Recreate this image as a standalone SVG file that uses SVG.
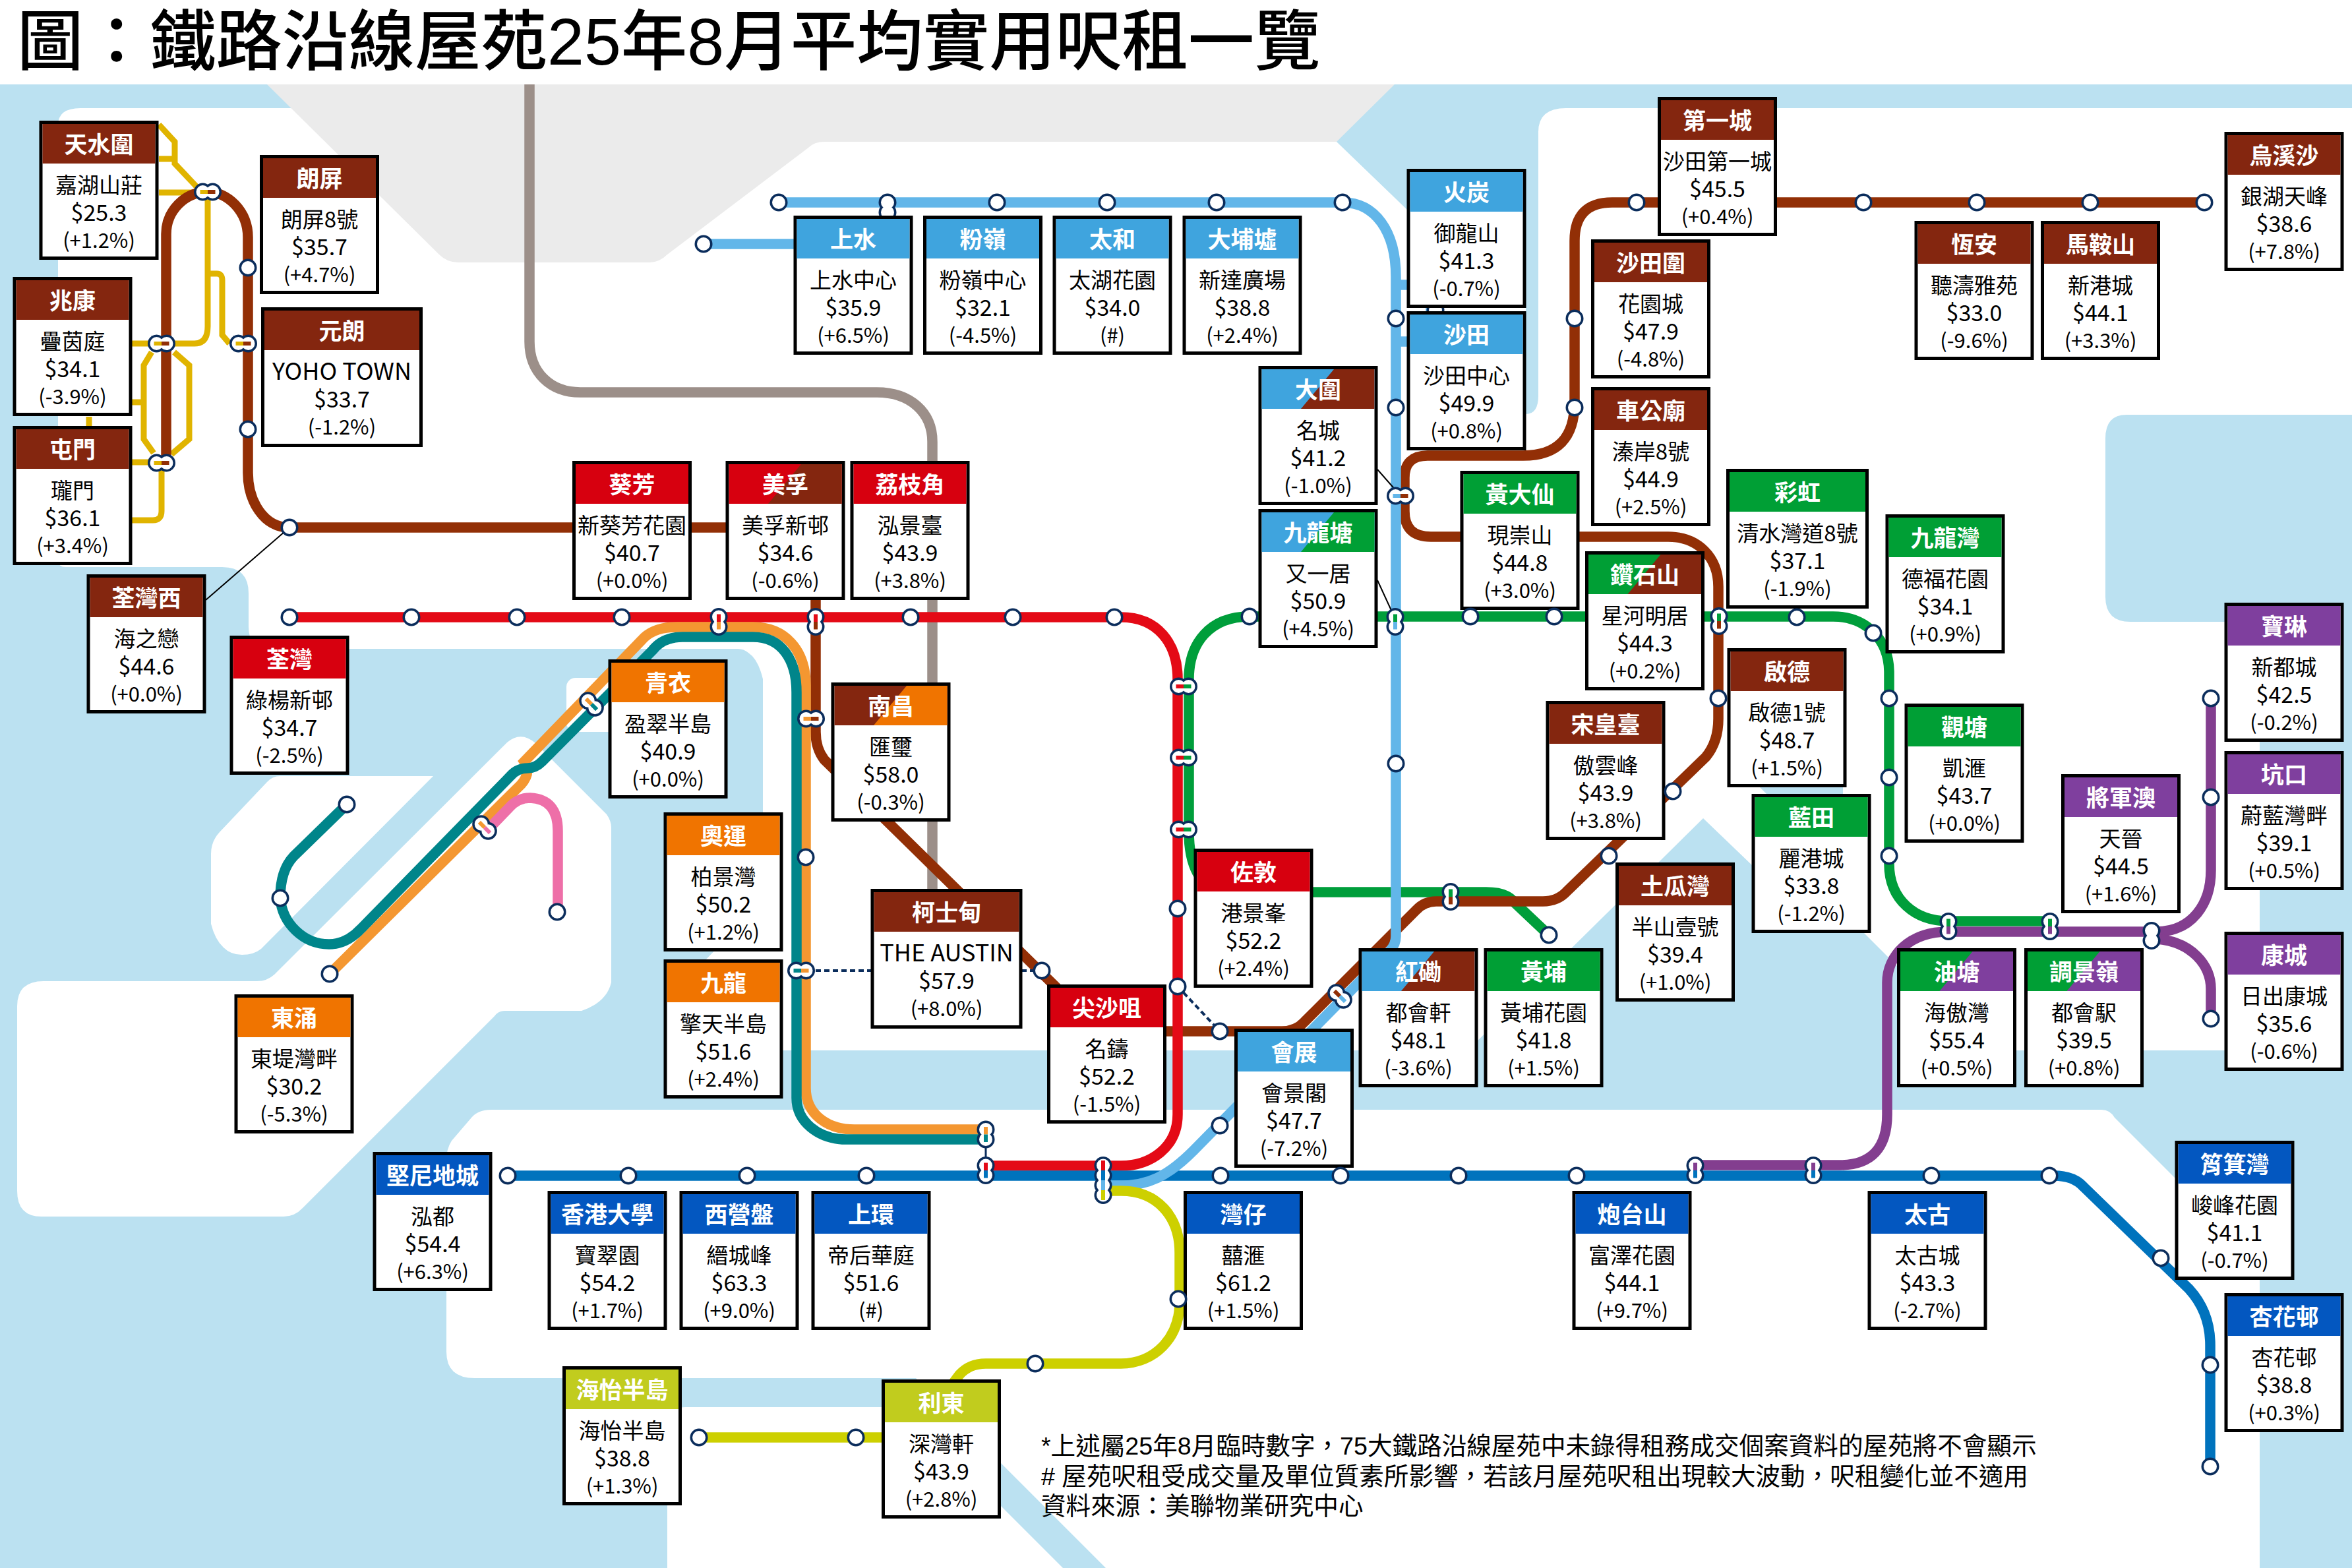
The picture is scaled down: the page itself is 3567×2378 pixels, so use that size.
<svg xmlns="http://www.w3.org/2000/svg" width="3567" height="2378" viewBox="0 0 3567 2378">
<style>
text{font-family:"Noto Sans CJK TC","Noto Sans",sans-serif;fill:#000}
.title{font-family:"Liberation Sans","Noto Sans CJK TC",sans-serif;font-size:100.5px;font-weight:500}
.note{font-family:"Liberation Sans","Noto Sans CJK TC",sans-serif;font-size:37.6px}
.node text{text-anchor:middle}
.node .t{font-size:35px;font-weight:700;fill:#fff}
.node .n{font-size:33px}
.node .n2{font-size:36px}
.node .v{font-size:34px}
.node .c{font-size:31px}
.box{fill:#fff;stroke:#000;stroke-width:5}
.f-br{fill:#84260f}.f-rd{fill:#d7000f}.f-lb{fill:#3fa4de}.f-gn{fill:#009f35}.f-or{fill:#f07400}.f-pu{fill:#7f3f9e}.f-bl{fill:#0357c0}.f-lm{fill:#c1cc1e}
.sea{fill:#bbe1f1}.land{fill:#fff}.hill{fill:#ebebeb}
.ln{fill:none;stroke-width:15.5}
.lr{fill:none;stroke:#e0b400;stroke-width:9}
.k-br{stroke:#922f06}.k-rd{stroke:#e40a16}.k-or{stroke:#f49731}.k-te{stroke:#00858a}.k-pk{stroke:#ee6fa8}.k-gn{stroke:#009e3b}.k-lm{stroke:#cdd000}.k-bl{stroke:#0073bd}.k-lb{stroke:#62b6e9}.k-pu{stroke:#833e8f}.k-gy{stroke:#9c8f89}.k-ye{stroke:#e0b400}
.thin{fill:none;stroke:#000;stroke-width:2}
.dot{fill:none;stroke:#0b2d5c;stroke-width:4;stroke-dasharray:8 5}
.o{fill:#0b2d5c}.w{fill:#fff}
.bar{stroke-width:6}
</style>
<defs>
<rect id="b" class="box" x="-88" y="2.5" width="176" height="206"/>
<rect id="h" x="-85.5" y="5" width="171" height="60"/>
<polygon id="sp" points="24,5 85.5,5 85.5,65 -26,65"/>
<g id="s"><circle class="o" r="13.5"/><circle class="w" r="10"/></g>
<g id="i2"><circle class="o" cx="-7.5" r="13.5"/><circle class="o" cx="7.5" r="13.5"/><circle class="w" cx="-7.5" r="10"/><circle class="w" cx="7.5" r="10"/></g>
</defs>
<g id="map">
<rect class="sea" x="0" y="128" width="3567" height="2250"/>
<path class="land" d="M122,164H440L2027,215L2135,319L2314,460V628Q2333,628 2333,600V200Q2333,164 2375,164H3567V629H3225Q3193,629 3193,665V905Q3193,943 3231,943H3427V1593H2877V1465L2865,1453L2795,1383V1190H2665L2690,1215L2724,1379L2658,1313L2583,1241L2226,1593H1066V1460L1157,1366V1030Q1150,1000 1135,990Q1128,984 1119,984H407Q377,984 377,950V900Q377,860 337,860H100Q88,860 88,850V190Q88,164 122,164Z"/>
<rect class="land" x="859" y="1028" width="100" height="82" rx="14"/>
<path class="land" d="M657,1177H425Q413,1177 405,1186L333,1262Q320,1276 320,1295V1401Q326,1425 339,1437Q350,1448 367,1448Q385,1448 396,1439Z"/>
<path class="land" d="M769,1126Q790,1108 812,1127L920,1235Q927,1245 927,1255V1490Q920,1520 882,1533H766Q756,1533 750,1541L459,1832Q447,1845 430,1845H63Q26,1845 26,1806V1526Q26,1488 66,1488H390Q405,1488 416,1478Z"/>
<path class="land" d="M745,1683H3187Q3200,1683 3207,1695L3427,1915V2378H1677L1389,2090H720Q677,2090 677,2050V1760Q677,1742 685,1730L715,1695Q725,1683 745,1683Z"/>
<path class="land" d="M1040,2134H1368L1612,2378H1012V2160Q1012,2134 1040,2134Z"/>
<path class="hill" d="M405,128L666,386Q678,398 695,398H985Q1000,398 1012,386L1226,224Q1235,215 1250,215H2027L2115,128Z"/>
</g>
<text class="title" x="26" y="98">圖：鐵路沿線屋苑25年8月平均實用呎租一覽</text>
<g id="connectors">
<path class="ln k-gy" d="M803,128V518C803,565 835,595 880,595H1330C1380,595 1414,625 1414,670V1360"/>
<g id="light-rail">
<path class="lr" d="M241,189L265,215V248L298,283M241,241H265M241,292H295"/>
<path class="lr" d="M315,300V495Q315,521 295,521H200M315,415H329Q337,415 337,425V508L348,521"/>
<path class="lr" d="M230,534L218,554V666L233,687M264,534L287,554V666L260,689M200,610H218M200,701H230M245,712V775Q245,789 232,789H200M135,632V646"/>
</g>
<path class="ln k-gn" d="M1895,935C1835,935 1803,975 1803,1030V1260C1803,1320 1825,1353 1865,1353H2254Q2285,1353 2296,1368L2349,1418"/>
<path class="ln k-gn" d="M1895,935H2780C2830,935 2865,970 2865,1020V1310C2865,1365 2905,1397 2955,1397H3109"/>
<path class="ln k-br" d="M252,702V355C252,320 280,291 315,291C345,291 376,320 376,360V717C376,760 400,800 439,800H1190Q1237,800 1237,850V1110Q1237,1135 1250,1152L1625,1520Q1655,1564 1700,1564H1944Q1965,1564 1978,1550L2148,1380Q2160,1367 2178,1367H2340Q2362,1367 2376,1352L2587,1148Q2606,1125 2606,1090V890C2606,845 2575,814 2530,814H2170Q2130,814 2130,775V725Q2130,691 2165,691H2310Q2388,691 2388,610V365Q2388,307 2445,307H3343"/>
<path class="ln k-rd" d="M439,936H1700C1755,936 1786,975 1786,1030V1690C1786,1740 1745,1768 1700,1768H1495"/>
<path class="ln k-or" d="M500,1477L790,1190Q806,1172 795,1155L973,971Q990,951 1027,951H1142C1190,951 1222,985 1222,1040V1650C1222,1690 1255,1713 1296,1713H1495"/>
<path class="ln k-te" d="M525,1221L445,1299C430,1315 425,1340 425,1362C428,1400 460,1432 499,1432C520,1432 535,1422 548,1408L775,1176Q785,1165 800,1165Q812,1165 822,1155L989,987Q1005,966 1035,966H1142C1185,966 1208,1000 1208,1050V1665C1208,1700 1240,1728 1284,1728H1495"/>
<path class="ln k-pk" d="M740,1258L772,1225Q785,1210 804,1210Q846,1212 846,1260V1383"/>
<path class="ln k-pu" d="M2574,1767H2790Q2862,1767 2862,1690V1490C2862,1450 2895,1413 2955,1413H3270C3325,1413 3353,1370 3353,1320V1059"/>
<path class="ln k-pu" d="M3270,1424C3325,1428 3353,1465 3353,1500V1545"/>
<path class="ln k-bl" d="M770,1783H3115Q3145,1783 3160,1800L3320,1955Q3352,1990 3352,2040V2224"/>
<path class="ln k-lb" d="M1067,370H1300"/>
<path class="ln k-lb" d="M2117,432H2170V518H2117"/>
<path class="ln k-lb" d="M1181,307H2036C2085,307 2117,350 2117,420V1420Q2117,1432 2108,1442L1810,1745C1770,1785 1740,1798 1700,1798H1673"/>
<path class="ln k-lm" d="M1673,1806H1700C1755,1806 1789,1845 1789,1900V1975C1789,2030 1750,2068 1700,2068H1495Q1470,2068 1455,2085L1440,2105"/>
<path class="ln k-lm" d="M1060,2180H1340"/>
<path class="thin" d="M439,800L312,910M2089,712L2118,745M2089,880L2112,930"/>
<path class="dot" d="M1237,1472H1580M1786,1496L1850,1564"/>
<path d="M1495,1735V1760" fill="none" stroke="#0b2d5c" stroke-width="3"/>
</g>
<g id="hidden-stops">
<g id="s-racecourse"><use href="#s" x="2177" y="470"/></g>
<g id="i-sheungshui" transform="translate(1346,314.5) rotate(90)"><use href="#i2"/></g>
</g>
<g id="nodes">
<g id="tin-shui-wai" class="node" transform="translate(150,183)"><use href="#b"/><use href="#h" class="f-br"/><text class="t" y="49">天水圍</text><text class="n" y="110">嘉湖山莊</text><text class="v" y="152">$25.3</text><text class="c" y="193">(+1.2%)</text></g>
<g id="long-ping" class="node" transform="translate(484.5,235)"><use href="#b"/><use href="#h" class="f-br"/><text class="t" y="49">朗屏</text><text class="n" y="110">朗屏8號</text><text class="v" y="152">$35.7</text><text class="c" y="193">(+4.7%)</text></g>
<g id="siu-hong" class="node" transform="translate(110,420)"><use href="#b"/><use href="#h" class="f-br"/><text class="t" y="49">兆康</text><text class="n" y="110">疊茵庭</text><text class="v" y="152">$34.1</text><text class="c" y="193">(-3.9%)</text></g>
<g id="tuen-mun" class="node" transform="translate(110,646)"><use href="#b"/><use href="#h" class="f-br"/><text class="t" y="49">屯門</text><text class="n" y="110">瓏門</text><text class="v" y="152">$36.1</text><text class="c" y="193">(+3.4%)</text></g>
<g id="yuen-long" class="node" transform="translate(518.5,466)"><rect class="box" x="-120" y="2.5" width="240" height="207"/><rect class="f-br" x="-117.5" y="5" width="235" height="60"/><text class="t" y="49">元朗</text><text class="n2" y="110">YOHO TOWN</text><text class="v" y="152">$33.7</text><text class="c" y="193">(-1.2%)</text></g>
<g id="tsuen-wan-west" class="node" transform="translate(222,871)"><use href="#b"/><use href="#h" class="f-br"/><text class="t" y="49">荃灣西</text><text class="n" y="110">海之戀</text><text class="v" y="152">$44.6</text><text class="c" y="193">(+0.0%)</text></g>
<g id="kwai-fong" class="node" transform="translate(958.5,699)"><use href="#b"/><use href="#h" class="f-rd"/><text class="t" y="49">葵芳</text><text class="n" y="110">新葵芳花園</text><text class="v" y="152">$40.7</text><text class="c" y="193">(+0.0%)</text></g>
<g id="mei-foo" class="node" transform="translate(1191,699)"><use href="#b"/><use href="#h" class="f-rd"/><use href="#sp" class="f-br"/><text class="t" y="49">美孚</text><text class="n" y="110">美孚新邨</text><text class="v" y="152">$34.6</text><text class="c" y="193">(-0.6%)</text></g>
<g id="lai-chi-kok" class="node" transform="translate(1380,699)"><use href="#b"/><use href="#h" class="f-rd"/><text class="t" y="49">荔枝角</text><text class="n" y="110">泓景臺</text><text class="v" y="152">$43.9</text><text class="c" y="193">(+3.8%)</text></g>
<g id="tsuen-wan" class="node" transform="translate(439,964)"><use href="#b"/><use href="#h" class="f-rd"/><text class="t" y="49">荃灣</text><text class="n" y="110">綠楊新邨</text><text class="v" y="152">$34.7</text><text class="c" y="193">(-2.5%)</text></g>
<g id="tsing-yi" class="node" transform="translate(1013,1000)"><use href="#b"/><use href="#h" class="f-or"/><text class="t" y="49">青衣</text><text class="n" y="110">盈翠半島</text><text class="v" y="152">$40.9</text><text class="c" y="193">(+0.0%)</text></g>
<g id="nam-cheong" class="node" transform="translate(1351,1035)"><use href="#b"/><use href="#h" class="f-br"/><use href="#sp" class="f-or"/><text class="t" y="49">南昌</text><text class="n" y="110">匯璽</text><text class="v" y="152">$58.0</text><text class="c" y="193">(-0.3%)</text></g>
<g id="olympic" class="node" transform="translate(1097,1232)"><use href="#b"/><use href="#h" class="f-or"/><text class="t" y="49">奧運</text><text class="n" y="110">柏景灣</text><text class="v" y="152">$50.2</text><text class="c" y="193">(+1.2%)</text></g>
<g id="kowloon" class="node" transform="translate(1097,1455)"><use href="#b"/><use href="#h" class="f-or"/><text class="t" y="49">九龍</text><text class="n" y="110">擎天半島</text><text class="v" y="152">$51.6</text><text class="c" y="193">(+2.4%)</text></g>
<g id="austin" class="node" transform="translate(1435.5,1348)"><rect class="box" x="-112.5" y="2.5" width="225" height="207"/><rect class="f-br" x="-110" y="5" width="220" height="60"/><text class="t" y="49">柯士甸</text><text class="n2" y="110">THE AUSTIN</text><text class="v" y="152">$57.9</text><text class="c" y="193">(+8.0%)</text></g>
<g id="tung-chung" class="node" transform="translate(446,1508)"><use href="#b"/><use href="#h" class="f-or"/><text class="t" y="49">東涌</text><text class="n" y="110">東堤灣畔</text><text class="v" y="152">$30.2</text><text class="c" y="193">(-5.3%)</text></g>
<g id="tsim-sha-tsui" class="node" transform="translate(1678.5,1493)"><use href="#b"/><use href="#h" class="f-rd"/><text class="t" y="49">尖沙咀</text><text class="n" y="110">名鑄</text><text class="v" y="152">$52.2</text><text class="c" y="193">(-1.5%)</text></g>
<g id="jordan" class="node" transform="translate(1901,1287)"><use href="#b"/><use href="#h" class="f-rd"/><text class="t" y="49">佐敦</text><text class="n" y="110">港景峯</text><text class="v" y="152">$52.2</text><text class="c" y="193">(+2.4%)</text></g>
<g id="exhibition" class="node" transform="translate(1962.5,1560)"><use href="#b"/><use href="#h" class="f-lb"/><text class="t" y="49">會展</text><text class="n" y="110">會景閣</text><text class="v" y="152">$47.7</text><text class="c" y="193">(-7.2%)</text></g>
<g id="hung-hom" class="node" transform="translate(2151,1438)"><use href="#b"/><use href="#h" class="f-lb"/><use href="#sp" class="f-br"/><text class="t" y="49">紅磡</text><text class="n" y="110">都會軒</text><text class="v" y="152">$48.1</text><text class="c" y="193">(-3.6%)</text></g>
<g id="whampoa" class="node" transform="translate(2341,1438)"><use href="#b"/><use href="#h" class="f-gn"/><text class="t" y="49">黃埔</text><text class="n" y="110">黃埔花園</text><text class="v" y="152">$41.8</text><text class="c" y="193">(+1.5%)</text></g>
<g id="to-kwa-wan" class="node" transform="translate(2540.5,1308)"><use href="#b"/><use href="#h" class="f-br"/><text class="t" y="49">土瓜灣</text><text class="n" y="110">半山壹號</text><text class="v" y="152">$39.4</text><text class="c" y="193">(+1.0%)</text></g>
<g id="sung-wong-toi" class="node" transform="translate(2435,1063)"><use href="#b"/><use href="#h" class="f-br"/><text class="t" y="49">宋皇臺</text><text class="n" y="110">傲雲峰</text><text class="v" y="152">$43.9</text><text class="c" y="193">(+3.8%)</text></g>
<g id="kai-tak" class="node" transform="translate(2710,983)"><use href="#b"/><use href="#h" class="f-br"/><text class="t" y="49">啟德</text><text class="n" y="110">啟德1號</text><text class="v" y="152">$48.7</text><text class="c" y="193">(+1.5%)</text></g>
<g id="lam-tin" class="node" transform="translate(2747,1204)"><use href="#b"/><use href="#h" class="f-gn"/><text class="t" y="49">藍田</text><text class="n" y="110">麗港城</text><text class="v" y="152">$33.8</text><text class="c" y="193">(-1.2%)</text></g>
<g id="kwun-tong" class="node" transform="translate(2979,1067)"><use href="#b"/><use href="#h" class="f-gn"/><text class="t" y="49">觀塘</text><text class="n" y="110">凱滙</text><text class="v" y="152">$43.7</text><text class="c" y="193">(+0.0%)</text></g>
<g id="kowloon-bay" class="node" transform="translate(2950,780)"><use href="#b"/><use href="#h" class="f-gn"/><text class="t" y="49">九龍灣</text><text class="n" y="110">德福花園</text><text class="v" y="152">$34.1</text><text class="c" y="193">(+0.9%)</text></g>
<g id="choi-hung" class="node" transform="translate(2726,711)"><rect class="box" x="-105.5" y="2.5" width="211" height="207"/><rect class="f-gn" x="-103" y="5" width="206" height="60"/><text class="t" y="49">彩虹</text><text class="n" y="110">清水灣道8號</text><text class="v" y="152">$37.1</text><text class="c" y="193">(-1.9%)</text></g>
<g id="diamond-hill" class="node" transform="translate(2494.5,836)"><use href="#b"/><use href="#h" class="f-gn"/><use href="#sp" class="f-br"/><text class="t" y="49">鑽石山</text><text class="n" y="110">星河明居</text><text class="v" y="152">$44.3</text><text class="c" y="193">(+0.2%)</text></g>
<g id="wong-tai-sin" class="node" transform="translate(2305,714)"><use href="#b"/><use href="#h" class="f-gn"/><text class="t" y="49">黃大仙</text><text class="n" y="110">現崇山</text><text class="v" y="152">$44.8</text><text class="c" y="193">(+3.0%)</text></g>
<g id="kowloon-tong" class="node" transform="translate(1999,772)"><use href="#b"/><use href="#h" class="f-lb"/><use href="#sp" class="f-gn"/><text class="t" y="49">九龍塘</text><text class="n" y="110">又一居</text><text class="v" y="152">$50.9</text><text class="c" y="193">(+4.5%)</text></g>
<g id="tai-wai" class="node" transform="translate(1999,555)"><use href="#b"/><use href="#h" class="f-lb"/><use href="#sp" class="f-br"/><text class="t" y="49">大圍</text><text class="n" y="110">名城</text><text class="v" y="152">$41.2</text><text class="c" y="193">(-1.0%)</text></g>
<g id="sha-tin" class="node" transform="translate(2224,472)"><use href="#b"/><use href="#h" class="f-lb"/><text class="t" y="49">沙田</text><text class="n" y="110">沙田中心</text><text class="v" y="152">$49.9</text><text class="c" y="193">(+0.8%)</text></g>
<g id="fo-tan" class="node" transform="translate(2224,256)"><use href="#b"/><use href="#h" class="f-lb"/><text class="t" y="49">火炭</text><text class="n" y="110">御龍山</text><text class="v" y="152">$41.3</text><text class="c" y="193">(-0.7%)</text></g>
<g id="sheung-shui" class="node" transform="translate(1294,327)"><use href="#b"/><use href="#h" class="f-lb"/><text class="t" y="49">上水</text><text class="n" y="110">上水中心</text><text class="v" y="152">$35.9</text><text class="c" y="193">(+6.5%)</text></g>
<g id="fanling" class="node" transform="translate(1490.5,327)"><use href="#b"/><use href="#h" class="f-lb"/><text class="t" y="49">粉嶺</text><text class="n" y="110">粉嶺中心</text><text class="v" y="152">$32.1</text><text class="c" y="193">(-4.5%)</text></g>
<g id="tai-wo" class="node" transform="translate(1687,327)"><use href="#b"/><use href="#h" class="f-lb"/><text class="t" y="49">太和</text><text class="n" y="110">太湖花園</text><text class="v" y="152">$34.0</text><text class="c" y="193">(#)</text></g>
<g id="tai-po-market" class="node" transform="translate(1884,327)"><use href="#b"/><use href="#h" class="f-lb"/><text class="t" y="49">大埔墟</text><text class="n" y="110">新達廣場</text><text class="v" y="152">$38.8</text><text class="c" y="193">(+2.4%)</text></g>
<g id="city-one" class="node" transform="translate(2604.5,147)"><use href="#b"/><use href="#h" class="f-br"/><text class="t" y="49">第一城</text><text class="n" y="110">沙田第一城</text><text class="v" y="152">$45.5</text><text class="c" y="193">(+0.4%)</text></g>
<g id="sha-tin-wai" class="node" transform="translate(2503.5,363)"><use href="#b"/><use href="#h" class="f-br"/><text class="t" y="49">沙田圍</text><text class="n" y="110">花園城</text><text class="v" y="152">$47.9</text><text class="c" y="193">(-4.8%)</text></g>
<g id="che-kung-temple" class="node" transform="translate(2503.5,587)"><use href="#b"/><use href="#h" class="f-br"/><text class="t" y="49">車公廟</text><text class="n" y="110">溱岸8號</text><text class="v" y="152">$44.9</text><text class="c" y="193">(+2.5%)</text></g>
<g id="heng-on" class="node" transform="translate(2994,335)"><use href="#b"/><use href="#h" class="f-br"/><text class="t" y="49">恆安</text><text class="n" y="110">聽濤雅苑</text><text class="v" y="152">$33.0</text><text class="c" y="193">(-9.6%)</text></g>
<g id="ma-on-shan" class="node" transform="translate(3185.5,335)"><use href="#b"/><use href="#h" class="f-br"/><text class="t" y="49">馬鞍山</text><text class="n" y="110">新港城</text><text class="v" y="152">$44.1</text><text class="c" y="193">(+3.3%)</text></g>
<g id="wu-kai-sha" class="node" transform="translate(3464,200)"><use href="#b"/><use href="#h" class="f-br"/><text class="t" y="49">烏溪沙</text><text class="n" y="110">銀湖天峰</text><text class="v" y="152">$38.6</text><text class="c" y="193">(+7.8%)</text></g>
<g id="po-lam" class="node" transform="translate(3464,914)"><use href="#b"/><use href="#h" class="f-pu"/><text class="t" y="49">寶琳</text><text class="n" y="110">新都城</text><text class="v" y="152">$42.5</text><text class="c" y="193">(-0.2%)</text></g>
<g id="hang-hau" class="node" transform="translate(3464,1139)"><use href="#b"/><use href="#h" class="f-pu"/><text class="t" y="49">坑口</text><text class="n" y="110">蔚藍灣畔</text><text class="v" y="152">$39.1</text><text class="c" y="193">(+0.5%)</text></g>
<g id="lohas-park" class="node" transform="translate(3464,1413)"><use href="#b"/><use href="#h" class="f-pu"/><text class="t" y="49">康城</text><text class="n" y="110">日出康城</text><text class="v" y="152">$35.6</text><text class="c" y="193">(-0.6%)</text></g>
<g id="tseung-kwan-o" class="node" transform="translate(3216.5,1174)"><use href="#b"/><use href="#h" class="f-pu"/><text class="t" y="49">將軍澳</text><text class="n" y="110">天晉</text><text class="v" y="152">$44.5</text><text class="c" y="193">(+1.6%)</text></g>
<g id="yau-tong" class="node" transform="translate(2967.5,1438)"><use href="#b"/><use href="#h" class="f-gn"/><use href="#sp" class="f-pu"/><text class="t" y="49">油塘</text><text class="n" y="110">海傲灣</text><text class="v" y="152">$55.4</text><text class="c" y="193">(+0.5%)</text></g>
<g id="tiu-keng-leng" class="node" transform="translate(3160.5,1438)"><use href="#b"/><use href="#h" class="f-gn"/><use href="#sp" class="f-pu"/><text class="t" y="49">調景嶺</text><text class="n" y="110">都會駅</text><text class="v" y="152">$39.5</text><text class="c" y="193">(+0.8%)</text></g>
<g id="kennedy-town" class="node" transform="translate(656,1747)"><use href="#b"/><use href="#h" class="f-bl"/><text class="t" y="49">堅尼地城</text><text class="n" y="110">泓都</text><text class="v" y="152">$54.4</text><text class="c" y="193">(+6.3%)</text></g>
<g id="hku" class="node" transform="translate(921,1806)"><use href="#b"/><use href="#h" class="f-bl"/><text class="t" y="49">香港大學</text><text class="n" y="110">寶翠園</text><text class="v" y="152">$54.2</text><text class="c" y="193">(+1.7%)</text></g>
<g id="sai-ying-pun" class="node" transform="translate(1121,1806)"><use href="#b"/><use href="#h" class="f-bl"/><text class="t" y="49">西營盤</text><text class="n" y="110">縉城峰</text><text class="v" y="152">$63.3</text><text class="c" y="193">(+9.0%)</text></g>
<g id="sheung-wan" class="node" transform="translate(1321,1806)"><use href="#b"/><use href="#h" class="f-bl"/><text class="t" y="49">上環</text><text class="n" y="110">帝后華庭</text><text class="v" y="152">$51.6</text><text class="c" y="193">(#)</text></g>
<g id="wan-chai" class="node" transform="translate(1885.5,1806)"><use href="#b"/><use href="#h" class="f-bl"/><text class="t" y="49">灣仔</text><text class="n" y="110">囍滙</text><text class="v" y="152">$61.2</text><text class="c" y="193">(+1.5%)</text></g>
<g id="fortress-hill" class="node" transform="translate(2475,1806)"><use href="#b"/><use href="#h" class="f-bl"/><text class="t" y="49">炮台山</text><text class="n" y="110">富澤花園</text><text class="v" y="152">$44.1</text><text class="c" y="193">(+9.7%)</text></g>
<g id="tai-koo" class="node" transform="translate(2923,1806)"><use href="#b"/><use href="#h" class="f-bl"/><text class="t" y="49">太古</text><text class="n" y="110">太古城</text><text class="v" y="152">$43.3</text><text class="c" y="193">(-2.7%)</text></g>
<g id="shau-kei-wan" class="node" transform="translate(3389,1730)"><use href="#b"/><use href="#h" class="f-bl"/><text class="t" y="49">筲箕灣</text><text class="n" y="110">峻峰花園</text><text class="v" y="152">$41.1</text><text class="c" y="193">(-0.7%)</text></g>
<g id="heng-fa-chuen" class="node" transform="translate(3464,1961)"><use href="#b"/><use href="#h" class="f-bl"/><text class="t" y="49">杏花邨</text><text class="n" y="110">杏花邨</text><text class="v" y="152">$38.8</text><text class="c" y="193">(+0.3%)</text></g>
<g id="south-horizons" class="node" transform="translate(943.5,2072)"><use href="#b"/><use href="#h" class="f-lm"/><text class="t" y="49">海怡半島</text><text class="n" y="110">海怡半島</text><text class="v" y="152">$38.8</text><text class="c" y="193">(+1.3%)</text></g>
<g id="lei-tung" class="node" transform="translate(1427.5,2092)"><use href="#b"/><use href="#h" class="f-lm"/><text class="t" y="49">利東</text><text class="n" y="110">深灣軒</text><text class="v" y="152">$43.9</text><text class="c" y="193">(+2.8%)</text></g>
</g>
<g id="stations">
<g id="s01"><use href="#s" x="376" y="406"/></g><g id="s02"><use href="#s" x="376" y="651"/></g><g id="s03"><use href="#s" x="439" y="800"/></g><g id="s04"><use href="#s" x="2388" y="483"/></g><g id="s05"><use href="#s" x="2388" y="618"/></g><g id="s06"><use href="#s" x="2482" y="307"/></g><g id="s07"><use href="#s" x="2826" y="307"/></g><g id="s08"><use href="#s" x="2998" y="307"/></g><g id="s09"><use href="#s" x="3170" y="307"/></g><g id="s10"><use href="#s" x="3343" y="307"/></g><g id="s11"><use href="#s" x="1580" y="1472"/></g><g id="s12"><use href="#s" x="1850" y="1564"/></g><g id="s13"><use href="#s" x="2440" y="1298"/></g><g id="s14"><use href="#s" x="2537" y="1200"/></g><g id="s15"><use href="#s" x="2606" y="1059"/></g>
<g id="s16"><use href="#s" x="439" y="936"/></g><g id="s17"><use href="#s" x="624" y="936"/></g><g id="s18"><use href="#s" x="784" y="936"/></g><g id="s19"><use href="#s" x="943" y="936"/></g><g id="s20"><use href="#s" x="1381" y="936"/></g><g id="s21"><use href="#s" x="1536" y="936"/></g><g id="s22"><use href="#s" x="1690" y="936"/></g><g id="s23"><use href="#s" x="1786" y="1378"/></g><g id="s24"><use href="#s" x="1786" y="1496"/></g>
<g id="s25"><use href="#s" x="1895" y="935"/></g><g id="s26"><use href="#s" x="2230" y="935"/></g><g id="s27"><use href="#s" x="2357" y="935"/></g><g id="s28"><use href="#s" x="2725" y="936"/></g><g id="s29"><use href="#s" x="2841" y="960"/></g><g id="s30"><use href="#s" x="2865" y="1059"/></g><g id="s31"><use href="#s" x="2865" y="1179"/></g><g id="s32"><use href="#s" x="2865" y="1298"/></g><g id="s33"><use href="#s" x="2349" y="1418"/></g>
<g id="s34"><use href="#s" x="1067" y="370"/></g><g id="s35"><use href="#s" x="1181" y="307"/></g><g id="s36"><use href="#s" x="1512" y="307"/></g><g id="s37"><use href="#s" x="1679" y="307"/></g><g id="s38"><use href="#s" x="1845" y="307"/></g><g id="s39"><use href="#s" x="2036" y="307"/></g><g id="s40"><use href="#s" x="2117" y="483"/></g><g id="s41"><use href="#s" x="2117" y="618"/></g><g id="s42"><use href="#s" x="2117" y="1158"/></g><g id="s43"><use href="#s" x="1850" y="1707"/></g>
<g id="s44"><use href="#s" x="500" y="1477"/></g><g id="s45"><use href="#s" x="1222" y="1300"/></g><g id="s46"><use href="#s" x="526" y="1220"/></g><g id="s47"><use href="#s" x="425" y="1362"/></g><g id="s48"><use href="#s" x="845" y="1383"/></g>
<g id="s49"><use href="#s" x="3353" y="1059"/></g><g id="s50"><use href="#s" x="3353" y="1209"/></g><g id="s51"><use href="#s" x="3353" y="1545"/></g>
<g id="s52"><use href="#s" x="770" y="1783"/></g><g id="s53"><use href="#s" x="953" y="1783"/></g><g id="s54"><use href="#s" x="1133" y="1783"/></g><g id="s55"><use href="#s" x="1314" y="1783"/></g><g id="s56"><use href="#s" x="1851" y="1783"/></g><g id="s57"><use href="#s" x="2033" y="1783"/></g><g id="s58"><use href="#s" x="2212" y="1783"/></g><g id="s59"><use href="#s" x="2391" y="1783"/></g><g id="s60"><use href="#s" x="2929" y="1783"/></g><g id="s61"><use href="#s" x="3108" y="1783"/></g><g id="s62"><use href="#s" x="3277" y="1908"/></g><g id="s63"><use href="#s" x="3352" y="2070"/></g><g id="s64"><use href="#s" x="3352" y="2224"/></g>
<g id="s65"><use href="#s" x="1787" y="1970"/></g><g id="s66"><use href="#s" x="1570" y="2068"/></g><g id="s67"><use href="#s" x="1060" y="2180"/></g><g id="s68"><use href="#s" x="1298" y="2180"/></g>
</g>
<g id="interchanges" class="bar">
<g id="i01" transform="translate(315,291)"><use href="#i2"/><path class="bar k-ye" d="M-11.5,0H0"/><path class="bar k-br" d="M0,0H11.5"/></g>
<g id="i02" transform="translate(245,521)"><use href="#i2"/><path class="bar k-ye" d="M-11.5,0H0"/><path class="bar k-br" d="M0,0H11.5"/></g>
<g id="i03" transform="translate(369,521)"><use href="#i2"/><path class="bar k-ye" d="M-11.5,0H0"/><path class="bar k-br" d="M0,0H11.5"/></g>
<g id="i04" transform="translate(245,702)"><use href="#i2"/><path class="bar k-ye" d="M-11.5,0H0"/><path class="bar k-br" d="M0,0H11.5"/></g>
<g id="i05" transform="translate(2124,752)"><use href="#i2"/><path class="bar k-lb" d="M-11.5,0H0"/><path class="bar k-br" d="M0,0H11.5"/></g>
<g id="i06" transform="translate(1090,943) rotate(90)"><use href="#i2"/><path class="bar k-rd" d="M-11.5,0H0"/><path class="bar k-or" d="M0,0H11.5"/></g>
<g id="i07" transform="translate(1237,943) rotate(90)"><use href="#i2"/><path class="bar k-rd" d="M-11.5,0H0"/><path class="bar k-br" d="M0,0H11.5"/></g>
<g id="i08" transform="translate(1230,1090)"><use href="#i2"/><path class="bar k-or" d="M-11.5,0H0"/><path class="bar k-br" d="M0,0H11.5"/></g>
<g id="i09" transform="translate(897,1068) rotate(45)"><use href="#i2"/><path class="bar k-or" d="M-11.5,0H0"/><path class="bar k-te" d="M0,0H11.5"/></g>
<g id="i10" transform="translate(735,1255) rotate(45)"><use href="#i2"/><path class="bar k-or" d="M-11.5,0H0"/><path class="bar k-pk" d="M0,0H11.5"/></g>
<g id="i11" transform="translate(1215,1472)"><use href="#i2"/><path class="bar k-te" d="M-11.5,0H0"/><path class="bar k-or" d="M0,0H11.5"/></g>
<g id="i12" transform="translate(1495,1720.5) rotate(90)"><use href="#i2"/><path class="bar k-or" d="M-11.5,0H0"/><path class="bar k-te" d="M0,0H11.5"/></g>
<g id="i13" transform="translate(1495,1775) rotate(90)"><use href="#i2"/><path class="bar k-rd" d="M-11.5,0H0"/><path class="bar k-bl" d="M0,0H11.5"/></g>
<g id="i14" transform="translate(1673,1790) rotate(90)"><circle class="o" cx="-22.5" r="13.5"/><circle class="o" cx="-7.5" r="13.5"/><circle class="o" cx="7.5" r="13.5"/><circle class="o" cx="22.5" r="13.5"/><circle class="w" cx="-22.5" r="10"/><circle class="w" cx="-7.5" r="10"/><circle class="w" cx="7.5" r="10"/><circle class="w" cx="22.5" r="10"/><path class="bar k-rd" d="M-30,0H-15"/><path class="bar k-bl" d="M-15,0H0"/><path class="bar k-lb" d="M0,0H15"/><path class="bar k-lm" d="M15,0H30"/></g>
<g id="i15" transform="translate(1795,1041)"><use href="#i2"/><path class="bar k-rd" d="M-11.5,0H0"/><path class="bar k-gn" d="M0,0H11.5"/></g>
<g id="i16" transform="translate(1795,1149)"><use href="#i2"/><path class="bar k-rd" d="M-11.5,0H0"/><path class="bar k-gn" d="M0,0H11.5"/></g>
<g id="i17" transform="translate(1795,1258)"><use href="#i2"/><path class="bar k-rd" d="M-11.5,0H0"/><path class="bar k-gn" d="M0,0H11.5"/></g>
<g id="i18" transform="translate(2116,943) rotate(90)"><use href="#i2"/><path class="bar k-gn" d="M-11.5,0H0"/><path class="bar k-lb" d="M0,0H11.5"/></g>
<g id="i19" transform="translate(2607,942) rotate(90)"><use href="#i2"/><path class="bar k-gn" d="M-11.5,0H0"/><path class="bar k-br" d="M0,0H11.5"/></g>
<g id="i20" transform="translate(2032,1511) rotate(45)"><use href="#i2"/><path class="bar k-br" d="M-11.5,0H0"/><path class="bar k-lb" d="M0,0H11.5"/></g>
<g id="i21" transform="translate(2200,1360) rotate(90)"><use href="#i2"/><path class="bar k-gn" d="M-11.5,0H0"/><path class="bar k-br" d="M0,0H11.5"/></g>
<g id="i22" transform="translate(2955,1405) rotate(90)"><use href="#i2"/><path class="bar k-gn" d="M-11.5,0H0"/><path class="bar k-pu" d="M0,0H11.5"/></g>
<g id="i23" transform="translate(3109,1405) rotate(90)"><use href="#i2"/><path class="bar k-gn" d="M-11.5,0H0"/><path class="bar k-pu" d="M0,0H11.5"/></g>
<g id="i24" transform="translate(3263,1419) rotate(90)"><use href="#i2"/></g>
<g id="i25" transform="translate(2571,1775) rotate(90)"><use href="#i2"/><path class="bar k-pu" d="M-11.5,0H0"/><path class="bar k-bl" d="M0,0H11.5"/></g>
<g id="i26" transform="translate(2750,1775) rotate(90)"><use href="#i2"/><path class="bar k-pu" d="M-11.5,0H0"/><path class="bar k-bl" d="M0,0H11.5"/></g>
</g>
<g id="notes">
<text class="note" x="1579" y="2206">*上述屬25年8月臨時數字，75大鐵路沿線屋苑中未錄得租務成交個案資料的屋苑將不會顯示</text>
<text class="note" x="1579" y="2252"># 屋苑呎租受成交量及單位質素所影響，若該月屋苑呎租出現較大波動，呎租變化並不適用</text>
<text class="note" x="1579" y="2297">資料來源：美聯物業研究中心</text>
</g>
</svg>
